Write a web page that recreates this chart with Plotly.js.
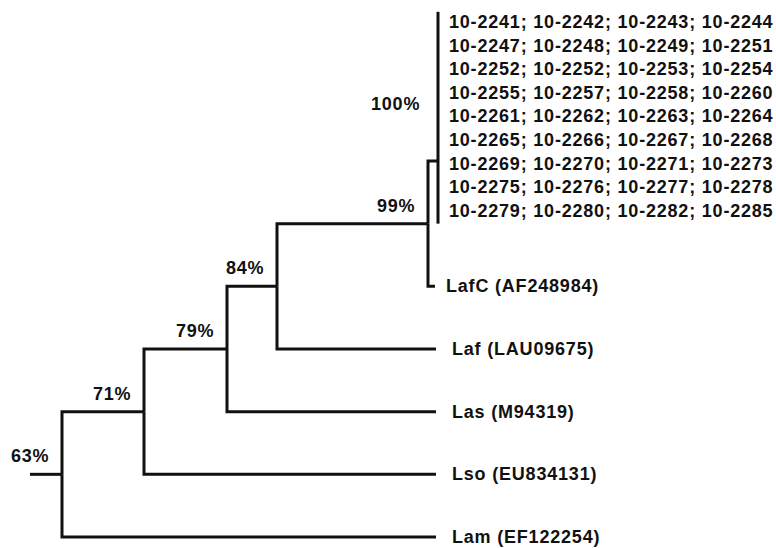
<!DOCTYPE html>
<html>
<head>
<meta charset="utf-8">
<script src="https://cdn.plot.ly/plotly-3.0.1.min.js"></script>
<style>
  html, body { margin: 0; padding: 0; background: #fff; }
  #chart { width: 776px; height: 548px; }
  svg text { letter-spacing: 0.8px; }
</style>
</head>
<body>
<div id="chart"></div>
<script>
// ---- Tree data (branch depths in arbitrary distance units, rows = vertical order) ----
const nodeLabel  = ['63%', '71%', '79%', '84%', '99%', '100%'];
const nodeDepth  = [0.00, 0.82, 1.65, 2.15, 3.66, 3.76];
const nodeParent = [-1, 0, 1, 2, 3, 4];
const nodeRow    = [1, 2, 3, 4, 5, 6];
const rootStart  = -0.32;

const leafLabel  = ['LafC (AF248984)', 'Laf (LAU09675)', 'Las (M94319)', 'Lso (EU834131)', 'Lam (EF122254)'];
const leafDepth  = [3.73, 3.74, 3.74, 3.74, 3.74];
const leafParent = [4, 3, 2, 1, 0];
const leafRow    = [4, 3, 2, 1, 0];

const strainLabels = [
  '10-2241; 10-2242; 10-2243; 10-2244',
  '10-2247; 10-2248; 10-2249; 10-2251',
  '10-2252; 10-2252; 10-2253; 10-2254',
  '10-2255; 10-2257; 10-2258; 10-2260',
  '10-2261; 10-2262; 10-2263; 10-2264',
  '10-2265; 10-2266; 10-2267; 10-2268',
  '10-2269; 10-2270; 10-2271; 10-2273',
  '10-2275; 10-2276; 10-2277; 10-2278',
  '10-2279; 10-2280; 10-2282; 10-2285'
];
const strainCladeNode = 5;       // the 100% clade
const strainTopRow = 8.22;       // first strain line
const strainBottomRow = 5.20;    // last strain line
const barTop = 8.38, barBottom = 5.0;

// ---- Build branch segments ----
const xs = [], ys = [];
function seg(pts) { pts.forEach(p => { xs.push(p[0]); ys.push(p[1]); }); xs.push(null); ys.push(null); }

seg([[rootStart, nodeRow[0]], [nodeDepth[0], nodeRow[0]]]);
for (let i = 1; i < nodeLabel.length; i++) {
  const p = nodeParent[i];
  seg([[nodeDepth[p], nodeRow[p]], [nodeDepth[p], nodeRow[i]], [nodeDepth[i], nodeRow[i]]]);
}
for (let j = 0; j < leafLabel.length; j++) {
  const p = leafParent[j];
  seg([[nodeDepth[p], nodeRow[p]], [nodeDepth[p], leafRow[j]], [leafDepth[j], leafRow[j]]]);
}
// clade bar
seg([[nodeDepth[strainCladeNode], barBottom], [nodeDepth[strainCladeNode], barTop]]);

const traces = [{
  type: 'scatter', mode: 'lines', x: xs, y: ys,
  line: { color: '#111', width: 3 }, hoverinfo: 'skip', connectgaps: false
}];

// ---- Annotations ----
const font = { family: 'Liberation Sans, Arial, sans-serif', size: 18, color: '#111', weight: 'bold' };
const ann = [];
for (let i = 0; i < nodeLabel.length; i++) {
  const isClade = i === strainCladeNode;
  ann.push({
    x: isClade ? nodeDepth[i - 1] : nodeDepth[i], y: nodeRow[i],
    xref: 'x', yref: 'y', text: nodeLabel[i], showarrow: false, align: 'right',
    xanchor: 'right', yanchor: 'middle',
    xshift: isClade ? -6 : -11, yshift: isClade ? 57 : 18, font: font
  });
}
leafLabel.forEach((s, j) => {
  ann.push({
    x: leafDepth[j], y: leafRow[j], xref: 'x', yref: 'y', text: s, showarrow: false, align: 'left',
    xanchor: 'left', yanchor: 'middle', xshift: j === 0 ? 9 : 14, font: font
  });
});
const step = (strainTopRow - strainBottomRow) / (strainLabels.length - 1);
strainLabels.forEach((s, k) => {
  ann.push({
    x: nodeDepth[strainCladeNode], y: strainTopRow - k * step, xref: 'x', yref: 'y', align: 'left',
    text: s, showarrow: false, xanchor: 'left', yanchor: 'middle', xshift: 9, font: font
  });
});

const layout = {
  width: 776, height: 548,
  margin: { l: 0, r: 0, t: 0, b: 0 },
  paper_bgcolor: '#fff', plot_bgcolor: '#fff',
  showlegend: false,
  xaxis: { range: [-0.62, 7.14], visible: false, fixedrange: true },
  yaxis: { range: [-0.1755, 8.5687], visible: false, fixedrange: true },
  annotations: ann
};

Plotly.newPlot('chart', traces, layout, { staticPlot: true, displayModeBar: false });
</script>
</body>
</html>
